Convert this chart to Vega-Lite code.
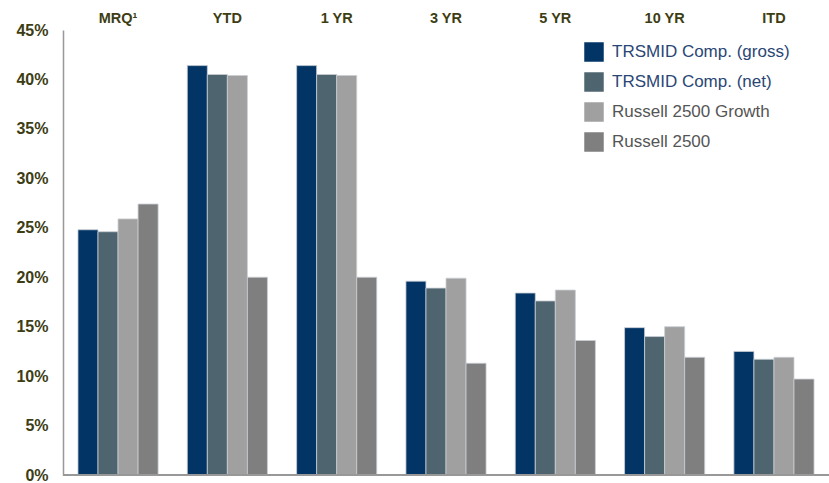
{
  "$schema": "https://vega.github.io/schema/vega-lite/v6.json",
  "autosize": "none",
  "width": 766,
  "height": 445,
  "padding": {"left": 63, "top": 30, "right": 0, "bottom": 8},
  "background": "white",
  "config": {"view": {"stroke": null}},
  "data": {"values": [
    {"period": "MRQ¹", "series": "TRSMID Comp. (gross)", "value": 24.8},
    {"period": "MRQ¹", "series": "TRSMID Comp. (net)", "value": 24.6},
    {"period": "MRQ¹", "series": "Russell 2500 Growth", "value": 25.9},
    {"period": "MRQ¹", "series": "Russell 2500", "value": 27.4},
    {"period": "YTD", "series": "TRSMID Comp. (gross)", "value": 41.4},
    {"period": "YTD", "series": "TRSMID Comp. (net)", "value": 40.5},
    {"period": "YTD", "series": "Russell 2500 Growth", "value": 40.4},
    {"period": "YTD", "series": "Russell 2500", "value": 20.0},
    {"period": "1 YR", "series": "TRSMID Comp. (gross)", "value": 41.4},
    {"period": "1 YR", "series": "TRSMID Comp. (net)", "value": 40.5},
    {"period": "1 YR", "series": "Russell 2500 Growth", "value": 40.4},
    {"period": "1 YR", "series": "Russell 2500", "value": 20.0},
    {"period": "3 YR", "series": "TRSMID Comp. (gross)", "value": 19.6},
    {"period": "3 YR", "series": "TRSMID Comp. (net)", "value": 18.9},
    {"period": "3 YR", "series": "Russell 2500 Growth", "value": 19.9},
    {"period": "3 YR", "series": "Russell 2500", "value": 11.3},
    {"period": "5 YR", "series": "TRSMID Comp. (gross)", "value": 18.4},
    {"period": "5 YR", "series": "TRSMID Comp. (net)", "value": 17.6},
    {"period": "5 YR", "series": "Russell 2500 Growth", "value": 18.7},
    {"period": "5 YR", "series": "Russell 2500", "value": 13.6},
    {"period": "10 YR", "series": "TRSMID Comp. (gross)", "value": 14.9},
    {"period": "10 YR", "series": "TRSMID Comp. (net)", "value": 14.0},
    {"period": "10 YR", "series": "Russell 2500 Growth", "value": 15.0},
    {"period": "10 YR", "series": "Russell 2500", "value": 11.9},
    {"period": "ITD", "series": "TRSMID Comp. (gross)", "value": 12.5},
    {"period": "ITD", "series": "TRSMID Comp. (net)", "value": 11.7},
    {"period": "ITD", "series": "Russell 2500 Growth", "value": 11.9},
    {"period": "ITD", "series": "Russell 2500", "value": 9.7}
  ]},
  "layer": [
    {
      "mark": {"type": "bar", "stroke": "#c9ced4", "strokeWidth": 0.8},
      "encoding": {
        "x": {
          "field": "period", "type": "nominal", "sort": null,
          "scale": {"paddingInner": 0.267, "paddingOuter": 0.137},
          "axis": {
            "orient": "top", "title": null, "domain": false, "ticks": false,
            "labelAngle": 0, "labelPadding": 5, "labelFont": "Liberation Sans",
            "labelFontSize": 14.5, "labelFontWeight": "bold", "labelColor": "#3d3d14"
          }
        },
        "xOffset": {"field": "series", "type": "nominal", "sort": null},
        "y": {
          "field": "value", "type": "quantitative",
          "scale": {"domain": [0, 45], "nice": false},
          "axis": {
            "title": null, "values": [0, 5, 10, 15, 20, 25, 30, 35, 40, 45],
            "labelExpr": "datum.value + '%'", "grid": false, "ticks": false,
            "domain": true, "domainColor": "#999999", "domainWidth": 1.5,
            "labelPadding": 15, "labelFont": "Liberation Sans", "labelFontSize": 16,
            "labelFontWeight": "bold", "labelColor": "#3d3d14"
          }
        },
        "color": {
          "field": "series", "type": "nominal", "sort": null,
          "scale": {
            "domain": ["TRSMID Comp. (gross)", "TRSMID Comp. (net)", "Russell 2500 Growth", "Russell 2500"],
            "range": ["#023466", "#4e6570", "#a0a0a0", "#7f7f7f"]
          },
          "legend": {
            "title": null, "orient": "none", "legendX": 521, "legendY": 12,
            "symbolType": "square", "symbolSize": 380, "symbolStrokeWidth": 0,
            "rowPadding": 10, "labelFont": "Liberation Sans", "labelFontSize": 17,
            "labelOffset": 8, "labelLimit": 300,
            "labelColor": {"expr": "indexof(datum.label, 'TRSMID') >= 0 ? '#2a4674' : '#555555'"}
          }
        }
      }
    },
    {
      "mark": {"type": "rule", "color": "#999999", "strokeWidth": 1.5},
      "encoding": {"y": {"datum": 0}}
    }
  ]
}
